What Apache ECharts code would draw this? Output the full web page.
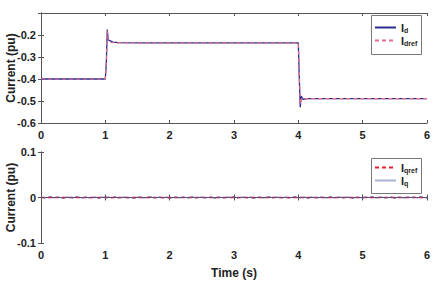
<!DOCTYPE html>
<html><head><meta charset="utf-8">
<script src="https://cdn.jsdelivr.net/npm/echarts@6/dist/echarts.min.js"></script>
<style>html,body{margin:0;padding:0;background:#fff}#c{width:434px;height:292px}</style>
</head><body><div id="c"></div>
<script>
// ---- data ----
const xTicks = [0, 1, 2, 3, 4, 5, 6];
const idData = [[0,-0.4],[1.0,-0.4],[1.015,-0.33],[1.03,-0.175],[1.045,-0.222],[1.07,-0.226],[1.12,-0.232],[1.2,-0.235],[1.6,-0.236],[2.5,-0.236],[3.5,-0.236],[4.0,-0.236],[4.015,-0.40],[4.03,-0.528],[4.045,-0.478],[4.07,-0.492],[4.15,-0.489],[6,-0.489]];
const idrefData = [[0,-0.4],[1.0,-0.4],[1.02,-0.30],[1.03,-0.18],[1.045,-0.23],[1.1,-0.234],[1.2,-0.236],[4.0,-0.236],[4.02,-0.42],[4.03,-0.515],[4.05,-0.485],[4.1,-0.489],[6,-0.489]];
const iqStep = 0.05;
const iqValues = [0.001,-0.001,0,0.002,-0.001,0.001,0,-0.002,0.001,0,-0.001,0.002,0,-0.001,0.001,-0.001,0,0.001,-0.002,0.001,
0,0.001,-0.001,0.002,-0.001,0,0.001,-0.001,0,-0.002,0.001,0.001,-0.001,0,0.002,-0.001,0,0.001,-0.001,0.001,
-0.002,0,0.001,-0.001,0.001,0,-0.001,0.002,-0.001,0,0.001,-0.001,0,0.001,-0.002,0.001,0,-0.001,0.001,0,
0.002,-0.001,0,0.001,-0.001,0.001,-0.002,0,0.001,-0.001,0,0.002,-0.001,0.001,0,-0.001,0.001,-0.001,0,0.002,
-0.001,0,0.001,-0.002,0.001,0,-0.001,0.001,0,-0.001,0.002,-0.001,0,0.001,-0.001,0.001,0,-0.002,0.001,0,
-0.001,0.001,0,0.002,-0.001,0,0.001,-0.001,0,0.001,-0.002,0.001,0,-0.001,0.001,0,0.001,-0.001,0.002,0,
-0.001];
const iqrefData = [[0,0],[6,0]];
const iqData = iqValues.map((v,i)=>[i*iqStep, v]);

// ---- chart ----
const FONT = '"Liberation Sans", Arial, sans-serif';
const AX = '#555';
const lbl = {fontFamily: FONT, fontWeight: 'bold', fontSize: 11, color: '#222'};
const rich = {
  i: {fontFamily: FONT, fontWeight: 'bold', fontSize: 11, color: '#222'},
  s: {fontFamily: FONT, fontWeight: 'bold', fontSize: 7, color: '#222', padding: [6, 0, 0, 0]}
};
const subs = {Id: 'd', Idref: 'dref', Iqref: 'qref', Iq: 'q'};
const legendFmt = n => '{i|I}{s|' + subs[n] + '}';
function xAx(gi, withLabel) {
  return [{
    type: 'value', gridIndex: gi, min: 0, max: 6, interval: 1,
    axisLine: {lineStyle: {color: AX}}, axisTick: {inside: true, length: 3, lineStyle: {color: AX}},
    axisLabel: {show: true, ...lbl, margin: 6},
    splitLine: {show: false},
    ...(withLabel ? {name: 'Time (s)', nameLocation: 'middle', nameGap: 24,
      nameTextStyle: {fontFamily: FONT, fontWeight: 'bold', fontSize: 12, color: '#222'}} : {})
  }, {
    type: 'value', gridIndex: gi, min: 0, max: 6, interval: 1, position: 'top',
    axisLine: {lineStyle: {color: AX}}, axisTick: {inside: true, length: 3, lineStyle: {color: AX}},
    axisLabel: {show: false}, splitLine: {show: false}
  }];
}
function yAx(gi, min, max, showMax) {
  const fmt = v => Math.abs(v) < 1e-9 ? '0' : v.toFixed(1);
  return [{
    type: 'value', gridIndex: gi, min: min, max: max, interval: 0.1,
    axisLine: {show: true, lineStyle: {color: AX}}, axisTick: {show: true, inside: true, length: 3, lineStyle: {color: AX}},
    axisLabel: {...lbl, formatter: fmt, showMaxLabel: showMax, margin: 5},
    splitLine: {show: false},
    name: 'Current (pu)', nameLocation: 'middle', nameGap: 24, nameMoveOverlap: false,
    nameTextStyle: {fontFamily: FONT, fontWeight: 'bold', fontSize: 12, color: '#222'}
  }, {
    type: 'value', gridIndex: gi, min: min, max: max, interval: 0.1, position: 'right',
    axisLine: {show: true, lineStyle: {color: AX}}, axisTick: {show: true, inside: true, length: 3, lineStyle: {color: AX}},
    axisLabel: {show: false}, splitLine: {show: false}
  }];
}
const legendBase = {
  orient: 'vertical', left: 374,
  itemWidth: 21, itemHeight: 10, itemGap: 1, formatter: legendFmt,
  itemStyle: {opacity: 0, borderWidth: 0},
  textStyle: {rich: rich}
};
function boxLine(x0, y0, x1, y1) {
  return {type: 'polyline', z: 100, silent: true,
    shape: {points: [[x0, y0], [x1, y0], [x1, y1], [x0, y1], [x0, y0]]},
    style: {stroke: '#777', lineWidth: 1, fill: null}};
}
const chart = echarts.init(document.getElementById('c'), null, {renderer: 'svg'});
chart.setOption({
  animation: false,
  backgroundColor: '#fff',
  grid: [
    {left: 41, top: 13, width: 386, height: 110, outerBoundsMode: 'none', containLabel: false},
    {left: 41, top: 152, width: 386, height: 91, outerBoundsMode: 'none', containLabel: false}
  ],
  xAxis: [...xAx(0, false), ...xAx(1, true)],
  yAxis: [...yAx(0, -0.6, -0.1, false), ...yAx(1, -0.1, 0.1, true)],
  graphic: [
    boxLine(371.5, 15.5, 421.5, 54.5),
    boxLine(371.5, 158.5, 421.5, 193.5)
  ],
  legend: [{
    ...legendBase, top: 22, padding: 0,
    data: ['Id', 'Idref']
  }, {
    ...legendBase, top: 162, padding: 0,
    data: [{name: 'Iqref'}, {name: 'Iq', lineStyle: {color: '#aab2d2'}}]
  }],
  series: [
    {name: 'Id', type: 'line', xAxisIndex: 0, yAxisIndex: 0, data: idData, symbol: 'none',
      lineStyle: {color: '#2a2a90', width: 1.3}, itemStyle: {color: '#2a2a90'}},
    {name: 'Idref', type: 'line', xAxisIndex: 0, yAxisIndex: 0, data: idrefData, symbol: 'none',
      lineStyle: {color: '#e46c8c', width: 1.2, type: [4, 3]}, itemStyle: {color: '#e46c8c'}},
    {name: 'Iqref', type: 'line', xAxisIndex: 2, yAxisIndex: 2, data: iqrefData, symbol: 'none',
      lineStyle: {color: '#e0202c', width: 1.5, type: [4, 3]}, itemStyle: {color: '#e0202c'}, z: 2},
    {name: 'Iq', type: 'line', xAxisIndex: 2, yAxisIndex: 2, data: iqData, symbol: 'none',
      lineStyle: {color: '#50509a', width: 0.9}, itemStyle: {color: '#50509a'}, z: 3}
  ]
});
</script></body></html>
